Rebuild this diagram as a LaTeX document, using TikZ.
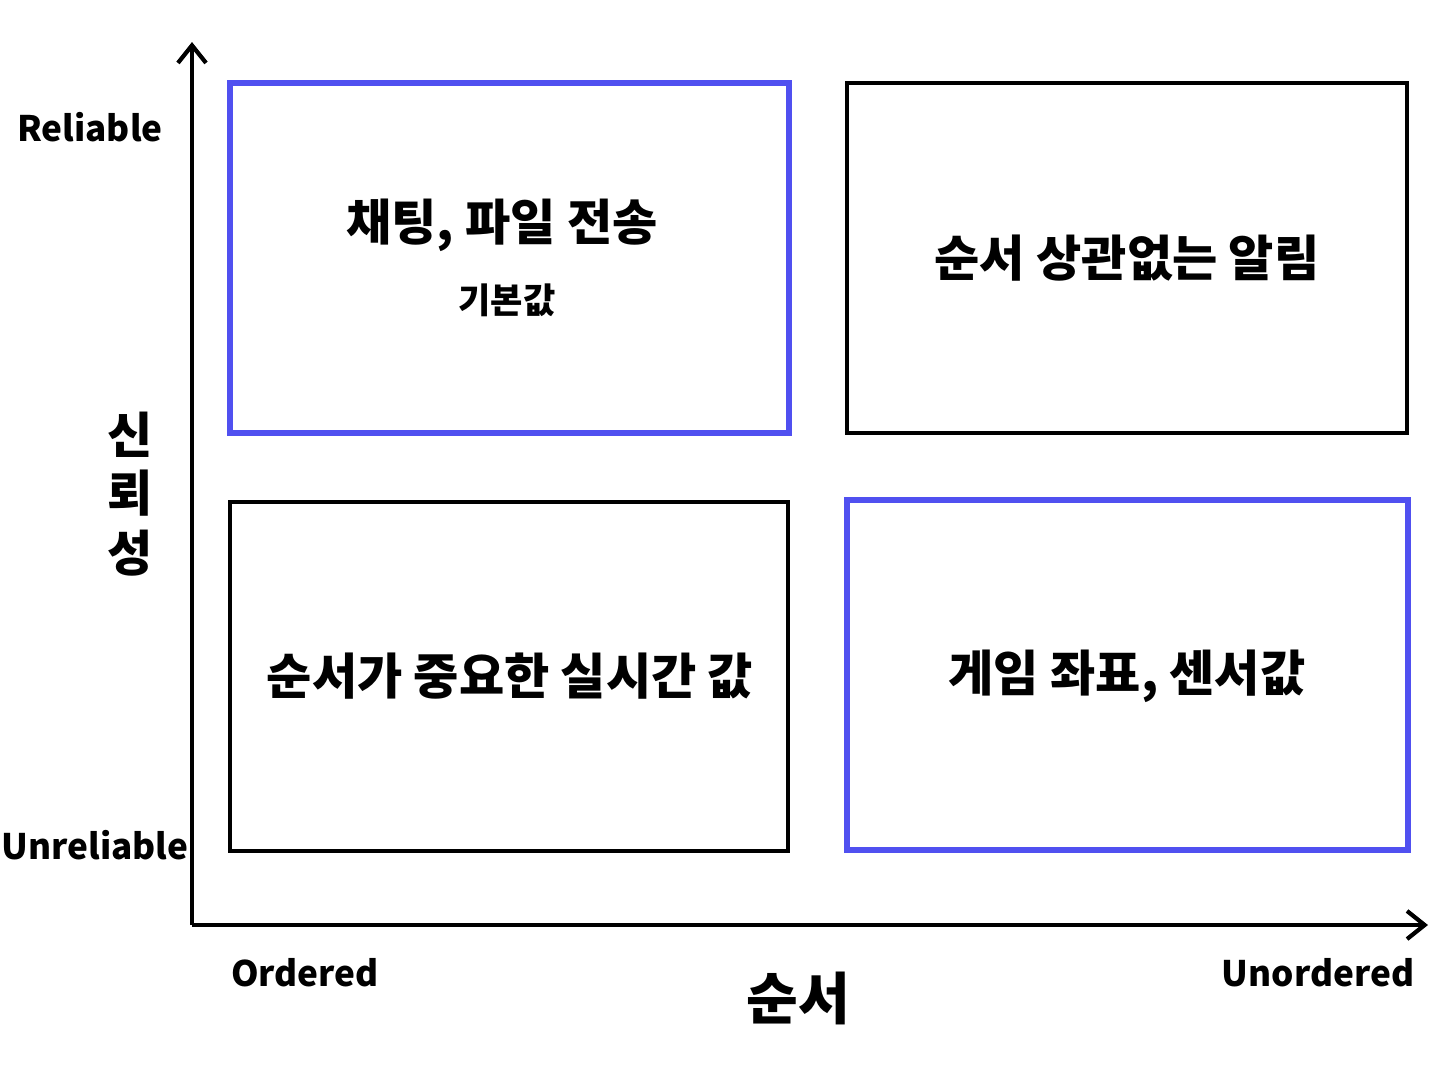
\documentclass[tikz,border=0pt]{standalone}
\usepackage{fontspec}
\setmainfont{Noto Sans CJK KR}
\usetikzlibrary{arrows.meta}
\definecolor{qblue}{RGB}{80,80,240}
\begin{document}
\begin{tikzpicture}[x=0.02cm,y=-0.02cm,
  box/.style={draw,line width=2.6pt},
  bbox/.style={draw=qblue,line width=3pt},
  big/.style={font=\fontsize{28}{32}\selectfont\bfseries},
  lab/.style={font=\fontsize{20}{24}\selectfont\bfseries},
  ax/.style={line width=2.4pt,-{Straight Barb[length=10pt,width=16pt,line width=2.4pt]}}]
\useasboundingbox (0,0) rectangle (1448,1086);
\coordinate (o) at (192,925);
\coordinate (yt) at (192,42);
\coordinate (xt) at (1428,925);
\draw[ax] (o) -- (yt);
\draw[ax] (o) -- (xt);
\draw[bbox] (230,83) rectangle (789,433);
\draw[box] (847,83) rectangle (1407,433);
\draw[box] (230,502) rectangle (788,851);
\draw[bbox] (847,500) rectangle (1408,850);
\node[big] (a) at (502,225) {채팅, 파일 전송};
\node[lab] (a2) at (507,300) {기본값};
\node[big] (b) at (1127,258) {순서 상관없는 알림};
\node[big] (c) at (510,676) {순서가 중요한 실시간 값};
\node[big] (d) at (1127,676) {게임 좌표, 센서값};
\node[lab] (r) at (90,127) {Reliable};
\node[lab] (u) at (95,845) {Unreliable};
\node[lab] (or) at (305,973) {Ordered};
\node[lab] (un) at (1318,973) {Unordered};
\node[font=\fontsize{28}{32}\selectfont\bfseries] (s1) at (130,435) {신};
\node[font=\fontsize{28}{32}\selectfont\bfseries] (s2) at (130,493) {뢰};
\node[font=\fontsize{28}{32}\selectfont\bfseries] (s3) at (130,553) {성};
\node[font=\fontsize{32}{36}\selectfont\bfseries] (sx) at (798,998) {순서};
\end{tikzpicture}
\end{document}
